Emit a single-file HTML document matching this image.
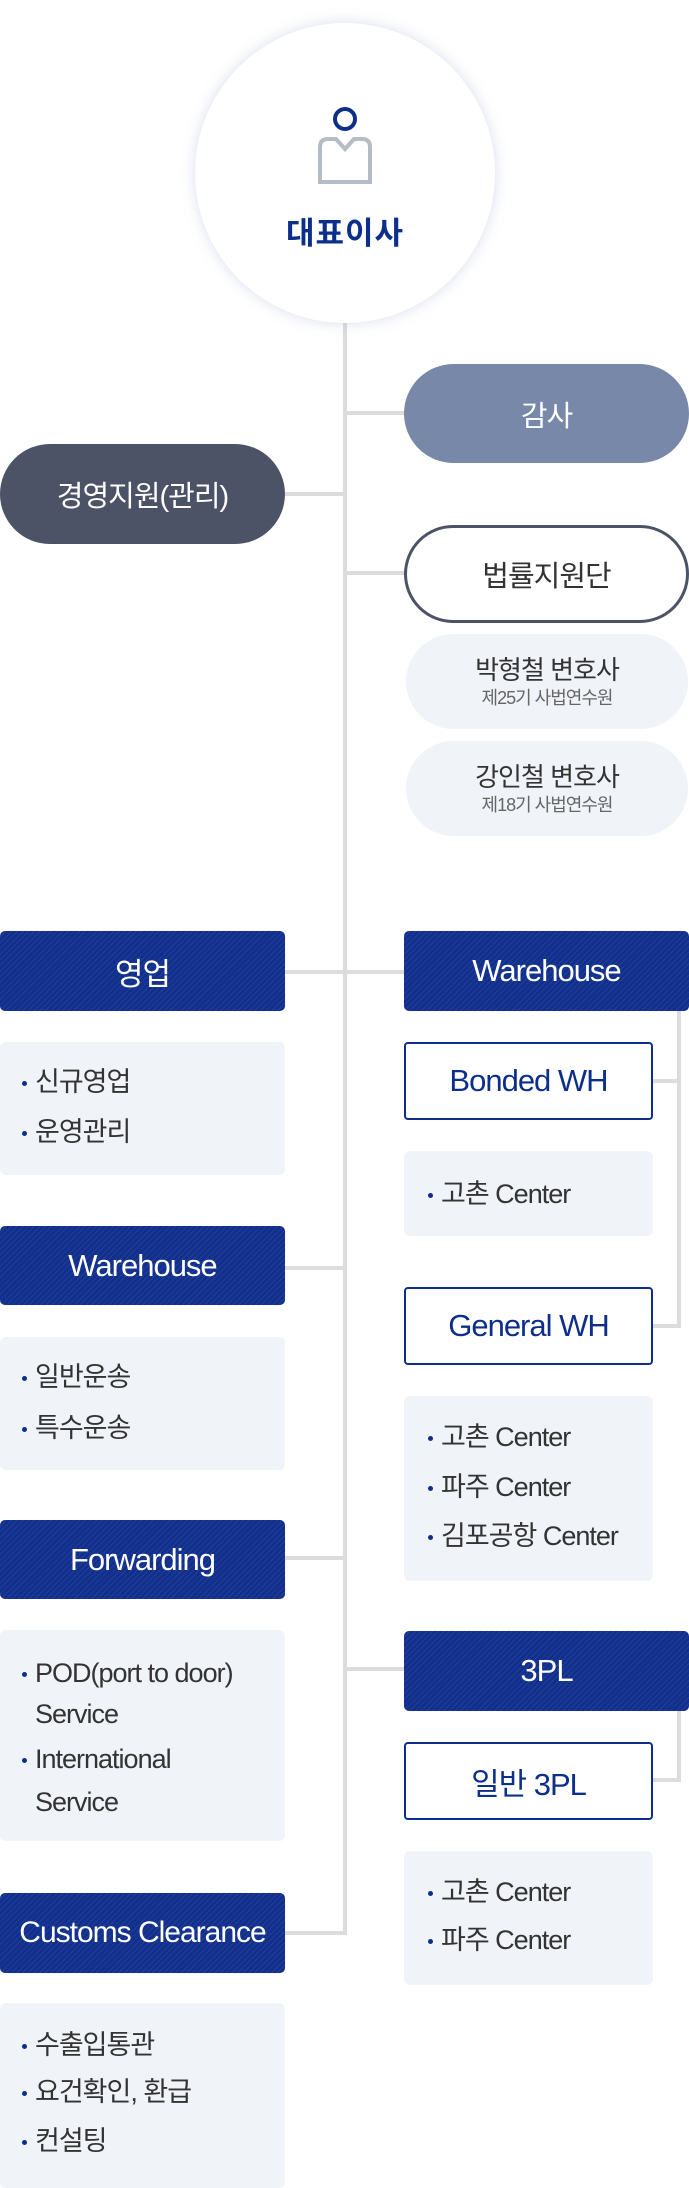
<!DOCTYPE html>
<html><head><meta charset="utf-8">
<style>
*{margin:0;padding:0;box-sizing:border-box}
body{width:689px;height:2188px;background:#fff;position:relative;overflow:hidden;font-family:"Liberation Sans","Noto Sans CJK KR",sans-serif;letter-spacing:-1px}
.a{position:absolute}
.ln{position:absolute;background:#dcdcdc}
.pill{position:absolute;border-radius:50px;display:flex;align-items:center;justify-content:center;font-size:29px}
.nv{position:absolute;border-radius:5px;display:flex;align-items:center;justify-content:center;color:#fff;font-size:31px;
background:#112f8c repeating-linear-gradient(135deg,rgba(255,255,255,0.07) 0 1px,transparent 1px 4px)}
.ob{position:absolute;border:2px solid #0d2f8c;border-radius:4px;background:#fff;display:flex;align-items:center;justify-content:center;color:#0d2f8c;font-size:31px}
.gb{position:absolute;background:#f0f3f7;border-radius:6px}
.it{position:absolute;font-size:27px;color:#333;line-height:1}
.it:before{content:"";position:absolute;left:-13px;top:12px;width:5px;height:5px;border-radius:50%;background:#0d2f8c}
</style></head><body>
<!-- lines -->
<div class="ln" style="left:343px;top:320px;width:4px;height:1615px"></div>
<div class="ln" style="left:345px;top:411px;width:60px;height:4px"></div>
<div class="ln" style="left:285px;top:492px;width:60px;height:4px"></div>
<div class="ln" style="left:345px;top:571px;width:60px;height:4px"></div>
<div class="ln" style="left:285px;top:970px;width:120px;height:4px"></div>
<div class="ln" style="left:285px;top:1266px;width:60px;height:4px"></div>
<div class="ln" style="left:285px;top:1556px;width:60px;height:4px"></div>
<div class="ln" style="left:285px;top:1931px;width:62px;height:4px"></div>
<div class="ln" style="left:345px;top:1667px;width:60px;height:4px"></div>
<div class="ln" style="left:677px;top:1010px;width:4px;height:318px"></div>
<div class="ln" style="left:653px;top:1079px;width:28px;height:4px"></div>
<div class="ln" style="left:653px;top:1324px;width:28px;height:4px"></div>
<div class="ln" style="left:677px;top:1710px;width:4px;height:72px"></div>
<div class="ln" style="left:653px;top:1778px;width:28px;height:4px"></div>

<!-- CEO circle -->
<div class="a" style="left:195px;top:23px;width:300px;height:300px;border-radius:50%;background:#fff;box-shadow:0 0 14px rgba(150,160,200,0.35)"></div>
<div class="a" style="left:333px;top:107px;width:24px;height:24px;border:4px solid #0d2f8c;border-radius:50%"></div>
<svg class="a" style="left:318px;top:137px" width="54" height="47"><path d="M2 45 V10 Q2 2 10 2 H18 L27 12 L36 2 H44 Q52 2 52 10 V45 Z" fill="none" stroke="#b5bcc6" stroke-width="4"/></svg>
<div class="a" style="left:195px;top:208px;width:300px;text-align:center;font-size:31px;font-weight:bold;color:#0d2f8c;letter-spacing:1px">대표이사</div>

<div class="pill" style="left:404px;top:364px;width:285px;height:99px;background:#7788a8;color:#fff">감사</div>
<div class="pill" style="left:0;top:444px;width:285px;height:100px;background:#4d5366;color:#fff">경영지원(관리)</div>
<div class="pill" style="left:404px;top:525px;width:285px;height:98px;border:3px solid #4d5366;background:#fff;color:#333">법률지원단</div>
<div class="pill" style="left:406px;top:634px;width:282px;height:95px;background:#f0f3f7;flex-direction:column;color:#333;font-size:26px;line-height:1.25">박형철 변호사<span style="font-size:18px;color:#666">제25기 사법연수원</span></div>
<div class="pill" style="left:406px;top:741px;width:282px;height:95px;background:#f0f3f7;flex-direction:column;color:#333;font-size:26px;line-height:1.25">강인철 변호사<span style="font-size:18px;color:#666">제18기 사법연수원</span></div>

<!-- left column -->
<div class="nv" style="left:0;top:931px;width:285px;height:80px">영업</div>
<div class="gb" style="left:0;top:1042px;width:285px;height:133px"></div>
<div class="it" style="left:35px;top:1069px">신규영업</div>
<div class="it" style="left:35px;top:1119px">운영관리</div>
<div class="nv" style="left:0;top:1226px;width:285px;height:79px">Warehouse</div>
<div class="gb" style="left:0;top:1337px;width:285px;height:133px"></div>
<div class="it" style="left:35px;top:1364px">일반운송</div>
<div class="it" style="left:35px;top:1415px">특수운송</div>
<div class="nv" style="left:0;top:1520px;width:285px;height:79px">Forwarding</div>
<div class="gb" style="left:0;top:1630px;width:285px;height:211px"></div>
<div class="it" style="left:35px;top:1660px">POD(port to door)</div>
<div class="a" style="left:35px;top:1699px;font-size:27px;color:#333">Service</div>
<div class="it" style="left:35px;top:1746px">International</div>
<div class="a" style="left:35px;top:1787px;font-size:27px;color:#333">Service</div>
<div class="nv" style="left:0;top:1893px;width:285px;height:80px;font-size:30px">Customs Clearance</div>
<div class="gb" style="left:0;top:2003px;width:285px;height:185px"></div>
<div class="it" style="left:35px;top:2032px">수출입통관</div>
<div class="it" style="left:35px;top:2079px">요건확인, 환급</div>
<div class="it" style="left:35px;top:2128px">컨설팅</div>

<!-- right column -->
<div class="nv" style="left:404px;top:931px;width:285px;height:80px">Warehouse</div>
<div class="ob" style="left:404px;top:1042px;width:249px;height:78px">Bonded WH</div>
<div class="gb" style="left:404px;top:1151px;width:249px;height:85px"></div>
<div class="it" style="left:441px;top:1181px">고촌 Center</div>
<div class="ob" style="left:404px;top:1287px;width:249px;height:78px">General WH</div>
<div class="gb" style="left:404px;top:1396px;width:249px;height:185px"></div>
<div class="it" style="left:441px;top:1424px">고촌 Center</div>
<div class="it" style="left:441px;top:1474px">파주 Center</div>
<div class="it" style="left:441px;top:1523px">김포공항 Center</div>
<div class="nv" style="left:404px;top:1631px;width:285px;height:80px">3PL</div>
<div class="ob" style="left:404px;top:1742px;width:249px;height:78px">일반 3PL</div>
<div class="gb" style="left:404px;top:1851px;width:249px;height:134px"></div>
<div class="it" style="left:441px;top:1879px">고촌 Center</div>
<div class="it" style="left:441px;top:1927px">파주 Center</div>
</body></html>
